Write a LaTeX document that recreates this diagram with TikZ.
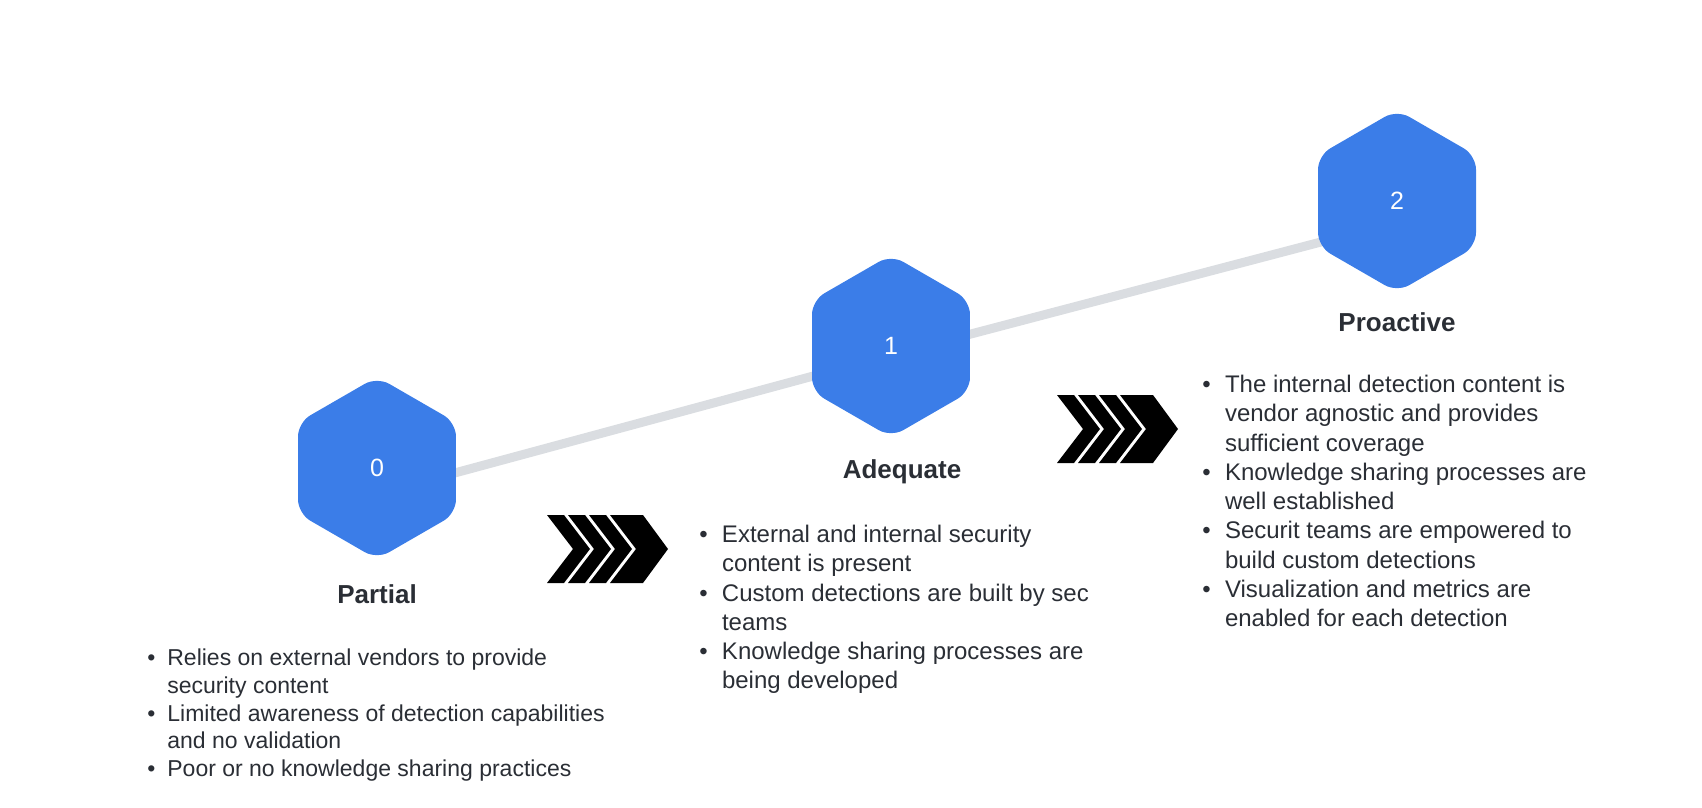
\documentclass[tikz,border=0pt]{standalone}
\usepackage{fontspec}
\setmainfont{Liberation Sans}
\usetikzlibrary{shapes.geometric,calc,backgrounds}

\definecolor{hexblue}{HTML}{3B7DE8}
\definecolor{trackgray}{HTML}{DADDE1}
\definecolor{inkdark}{HTML}{2A2E35}

\newlength{\bulw}
\newcommand{\bul}{\makebox[\bulw][l]{\textbullet}}
\newcommand{\ind}{\hspace*{\bulw}}

\begin{document}
\begin{tikzpicture}[x=0.5pt,y=-0.5pt]
    \tikzstyle{level}=[regular polygon, regular polygon sides=6, shape border rotate=30, fill=hexblue, rounded corners=7pt, minimum size=91.2pt, inner sep=0pt, text=white, font=\fontsize{12.5}{15}\selectfont]
    \tikzstyle{stage}=[inner sep=0pt, anchor=base, text=inkdark, font=\fontsize{13}{15}\selectfont\bfseries]
    \tikzstyle{notes}=[inner sep=0pt, anchor=north west, align=left, text=inkdark]
    \tikzstyle{track}=[draw=trackgray, line width=4.5pt]

    \useasboundingbox (0,0) rectangle (1702,808);

    % Draw the maturity levels
    \node[level] (h0) at (377,468) {0};
    \node[level] (h1) at (891,346) {1};
    \node[level] (h2) at (1397,201) {2};

    % Track behind the levels
    \begin{scope}[on background layer]
        \draw[track] ($(h0)+(0,26)$) -- ($(h1)+(0,9)$) -- ($(h2)+(0,21)$);
    \end{scope}

    % Level names
    \node[stage] (partial) at (377,603) {Partial};
    \node[stage] (adequate) at (902,478) {Adequate};
    \node[stage] (proactive) at (1397,331) {Proactive};

    % Chevrons between the levels
    \foreach \cx/\cy in {547/549, 1057/429} {
        \foreach \i in {0,1,2}
            \fill ($(\cx,\cy)+(21*\i,-34)$) -- ++(17,0) -- ++(26,34) -- ++(-26,34) -- ++(-17,0) -- ++(26,-34) -- cycle;
        \fill ($(\cx,\cy)+(63,-34)$) -- ++(33,0) -- ++(25,34) -- ++(-25,34) -- ++(-33,0) -- ++(26,-34) -- cycle;
    }

    % Descriptions
    \node[notes, font=\fontsize{11.5}{13.9}\selectfont\setlength{\bulw}{10pt}] (d0) at (147,647)
        {\rule{0pt}{9pt}\bul Relies on external vendors to provide\\
         \ind security content\\
         \bul Limited awareness of detection capabilities\\
         \ind and no validation\\
         \bul Poor or no knowledge sharing practices};
    \node[notes, font=\fontsize{12}{14.65}\selectfont\setlength{\bulw}{11.3pt}] (d1) at (699,524)
        {\rule{0pt}{9pt}\bul External and internal security\\
         \ind content is present\\
         \bul Custom detections are built by sec\\
         \ind teams\\
         \bul Knowledge sharing processes are\\
         \ind being developed};
    \node[notes, font=\fontsize{12}{14.65}\selectfont\setlength{\bulw}{11.3pt}] (d2) at (1202,374)
        {\rule{0pt}{9pt}\bul The internal detection content is\\
         \ind vendor agnostic and provides\\
         \ind sufficient coverage\\
         \bul Knowledge sharing processes are\\
         \ind well established\\
         \bul Securit teams are empowered to\\
         \ind build custom detections\\
         \bul Visualization and metrics are\\
         \ind enabled for each detection};
\end{tikzpicture}
\end{document}
